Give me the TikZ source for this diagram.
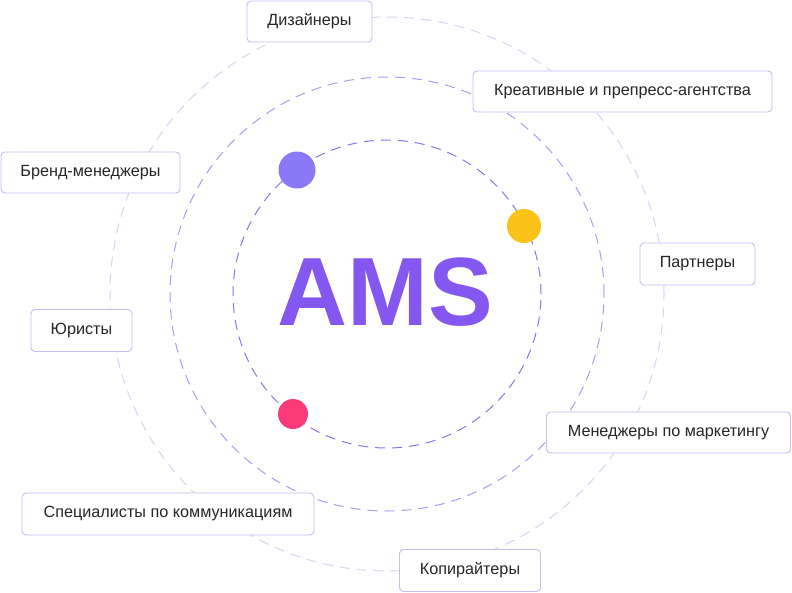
\documentclass[tikz,border=0pt]{standalone}
\usepackage{fontspec}
\setmainfont{Liberation Sans}
\definecolor{ringA}{HTML}{8B74F0}
\definecolor{ringB}{HTML}{AC9CF5}
\definecolor{ringC}{HTML}{D8D2F5}
\definecolor{boxline}{HTML}{C8BDF2}
\definecolor{txt}{HTML}{262626}
\definecolor{amscol}{HTML}{8458F0}
\definecolor{dotP}{HTML}{8A78F7}
\definecolor{dotY}{HTML}{FBC318}
\definecolor{dotR}{HTML}{FB3A7A}
\begin{document}
\begin{tikzpicture}[x=1pt,y=-1pt,
  ringstyle/.style={line width=1pt, dash pattern=on 10pt off 7pt},
  labelbox/.style={draw=boxline, line width=0.9pt, fill=white, rounded corners=4pt,
    inner sep=0pt, minimum height=41pt, text=txt, font=\fontsize{16.2}{19}\selectfont},
  dotstyle/.style={circle, inner sep=0pt, draw=none}]
\useasboundingbox (0,0) rectangle (792,592);
\fill[white] (0,0) rectangle (792,592);
\coordinate (c) at (387,294);
\draw[ringstyle, draw=ringC] (c) circle[radius=277pt];
\draw[ringstyle, draw=ringB] (c) circle[radius=217pt];
\draw[ringstyle, draw=ringA] (c) circle[radius=154pt];
\node[text=amscol, font=\fontsize{97}{110}\bfseries] (ams) at (385,292) {AMS};
\node[dotstyle, fill=dotP, minimum size=37pt] (d1) at (297,170) {};
\node[dotstyle, fill=dotY, minimum size=34pt] (d2) at (524,226) {};
\node[dotstyle, fill=dotR, minimum size=30pt] (d3) at (293,414) {};
\node[labelbox, minimum width=125pt] (b1) at (309.5,21.5) {Дизайнеры};
\node[labelbox, minimum width=299pt] (b2) at (622.5,91.5) {Креативные и препресс-агентства};
\node[labelbox, minimum width=179pt] (b3) at (90.5,172.5) {Бренд-менеджеры};
\node[labelbox, minimum width=101pt, minimum height=42pt] (b4) at (81.5,330.5) {Юристы};
\node[labelbox, minimum width=115pt, minimum height=42pt] (b5) at (697.5,264) {Партнеры};
\node[labelbox, minimum width=244pt] (b6) at (668.5,432.5) {Менеджеры по маркетингу};
\node[labelbox, minimum width=292pt, minimum height=42pt] (b7) at (168,514) {Специалисты по коммуникациям};
\node[labelbox, minimum width=141pt, minimum height=42pt] (b8) at (470,570.5) {Копирайтеры};
\end{tikzpicture}
\end{document}
